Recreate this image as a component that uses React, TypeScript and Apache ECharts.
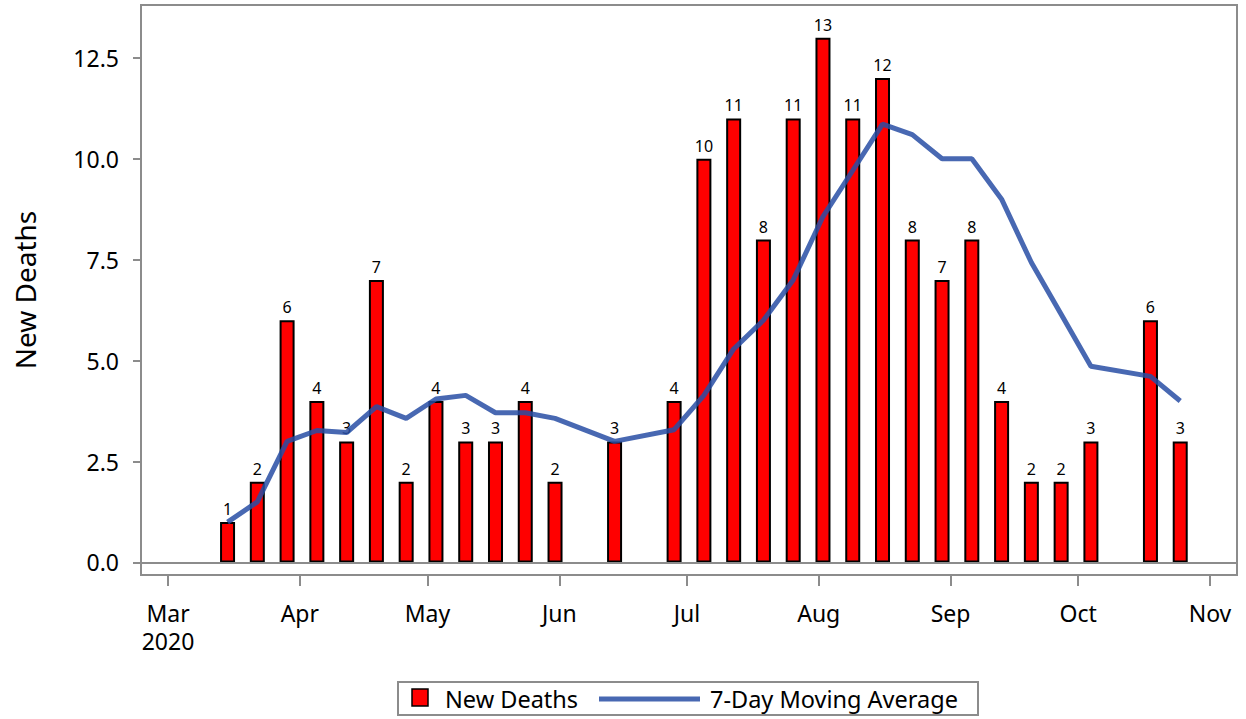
import { useEffect, useRef } from "react";
import * as echarts from "echarts";

const weekDates = [
  "2020-03-15", "2020-03-22", "2020-03-29", "2020-04-05", "2020-04-12", "2020-04-19",
  "2020-04-26", "2020-05-03", "2020-05-10", "2020-05-17", "2020-05-24", "2020-05-31",
  "2020-06-14", "2020-06-28", "2020-07-05", "2020-07-12", "2020-07-19", "2020-07-26",
  "2020-08-02", "2020-08-09", "2020-08-16", "2020-08-23", "2020-08-30", "2020-09-06",
  "2020-09-13", "2020-09-20", "2020-09-27", "2020-10-04", "2020-10-18", "2020-10-25",
];
const newDeaths = [1, 2, 6, 4, 3, 7, 2, 4, 3, 3, 4, 2, 3, 4, 10, 11, 8, 11, 13, 11, 12, 8, 7, 8, 4, 2, 2, 3, 6, 3];
const movingAvg = [
  1.0, 1.5, 3.0, 3.27, 3.22, 3.86, 3.57, 4.05, 4.14, 3.71, 3.71, 3.57,
  3.0, 3.29, 4.14, 5.29, 6.0, 7.0, 8.57, 9.71, 10.86, 10.6, 10.0, 10.0,
  9.0, 7.43, 6.15, 4.86, 4.61, 4.0,
];
const monthTicks = [
  "2020-03-01", "2020-04-01", "2020-05-01", "2020-06-01", "2020-07-01",
  "2020-08-01", "2020-09-01", "2020-10-01", "2020-11-01",
];
const monthLabels = ["Mar\n2020", "Apr", "May", "Jun", "Jul", "Aug", "Sep", "Oct", "Nov"];
const yTicks = [0, 2.5, 5, 7.5, 10, 12.5];

const FONT = "Noto Sans";
const GRAY = "#8c8c8c";
const LINE_COLOR = "#284ea5";
const DAY = 86400000;

// days since 2020-03-01 (UTC based, no DST issues)
function toDay(s: string): number {
  const [y, m, d] = s.split("-").map(Number);
  return (Date.UTC(y, m - 1, d) - Date.UTC(2020, 2, 1)) / DAY;
}

export default function App() {
  const ref = useRef<HTMLDivElement>(null);

  useEffect(() => {
    document.body.style.margin = "0";
    if (!ref.current) return;
    const chart = echarts.init(ref.current, undefined, { renderer: "svg" });
    const tickDays = monthTicks.map((s) => toDay(s));

    chart.setOption({
      animation: false,
      backgroundColor: "#ffffff",
      textStyle: { fontFamily: FONT },
      grid: {
        left: 141,
        top: 5,
        width: 1096,
        height: 570,
        show: true,
        borderColor: GRAY,
        borderWidth: 2,
        containLabel: false,
      },
      xAxis: {
        type: "value",
        min: -6.35,
        max: 251.35,
        axisLine: { show: false, onZero: false },
        splitLine: { show: false },
        axisTick: {
          show: true,
          length: 11,
          inside: false,
          lineStyle: { color: GRAY, width: 2 },
          customValues: tickDays,
        },
        axisLabel: {
          customValues: tickDays,
          margin: 24,
          fontSize: 23,
          lineHeight: 28,
          color: "#000",
          fontFamily: FONT,
          formatter: (v: number) => {
            const i = tickDays.indexOf(v);
            return i >= 0 ? monthLabels[i] : "";
          },
        },
      },
      yAxis: {
        type: "value",
        min: -0.31,
        max: 13.81,
        name: "New Deaths",
        nameLocation: "middle",
        nameRotate: 90,
        nameGap: 102,
        nameTextStyle: { fontSize: 28, color: "#000", fontFamily: FONT },
        axisLine: { show: false, onZero: false },
        splitLine: { show: false },
        axisTick: {
          show: true,
          length: 8,
          inside: false,
          lineStyle: { color: GRAY, width: 2 },
          customValues: yTicks,
        },
        axisLabel: {
          customValues: yTicks,
          margin: 22,
          fontSize: 23,
          color: "#000",
          fontFamily: FONT,
          formatter: (v: number) => v.toFixed(1),
        },
      },
      series: [
        {
          name: "New Deaths",
          type: "bar",
          barWidth: 15,
          data: weekDates.map((d, i) => [toDay(d), newDeaths[i]]),
          itemStyle: { color: "#ff0000", borderColor: "#000", borderWidth: 2 },
          label: {
            show: true,
            position: "top",
            distance: 5,
            fontSize: 16,
            color: "#000",
            fontFamily: FONT,
          },
          markLine: {
            silent: true,
            symbol: ["none", "none"],
            label: { show: false },
            lineStyle: { color: GRAY, width: 2, type: "solid" },
            data: [{ yAxis: 0 }],
          },
          z: 2,
        },
        {
          name: "7-Day Moving Average",
          type: "line",
          data: weekDates.map((d, i) => [toDay(d), movingAvg[i]]),
          symbol: "none",
          lineStyle: { color: LINE_COLOR, width: 5, opacity: 0.85 },
          itemStyle: { color: LINE_COLOR },
          z: 3,
        },
      ],
      graphic: [
        {
          type: "rect",
          shape: { x: 398, y: 682, width: 580, height: 33 },
          style: { fill: "#fff", stroke: GRAY, lineWidth: 2 },
        },
        {
          type: "rect",
          shape: { x: 412, y: 689, width: 16, height: 17 },
          style: { fill: "#ff0000", stroke: "#000", lineWidth: 1.5 },
        },
        {
          type: "text",
          x: 445,
          y: 699,
          style: { text: "New Deaths", fontSize: 23.5, fontFamily: FONT, fill: "#000", verticalAlign: "middle" },
        },
        {
          type: "line",
          shape: { x1: 599, y1: 699, x2: 700, y2: 699 },
          style: { stroke: LINE_COLOR, lineWidth: 5, opacity: 0.85 },
        },
        {
          type: "text",
          x: 710,
          y: 699,
          style: { text: "7-Day Moving Average", fontSize: 23.5, fontFamily: FONT, fill: "#000", verticalAlign: "middle" },
        },
      ],
    });

    return () => chart.dispose();
  }, []);

  return <div ref={ref} style={{ width: 1246, height: 719, position: "absolute", left: 0, top: 0 }} />;
}
